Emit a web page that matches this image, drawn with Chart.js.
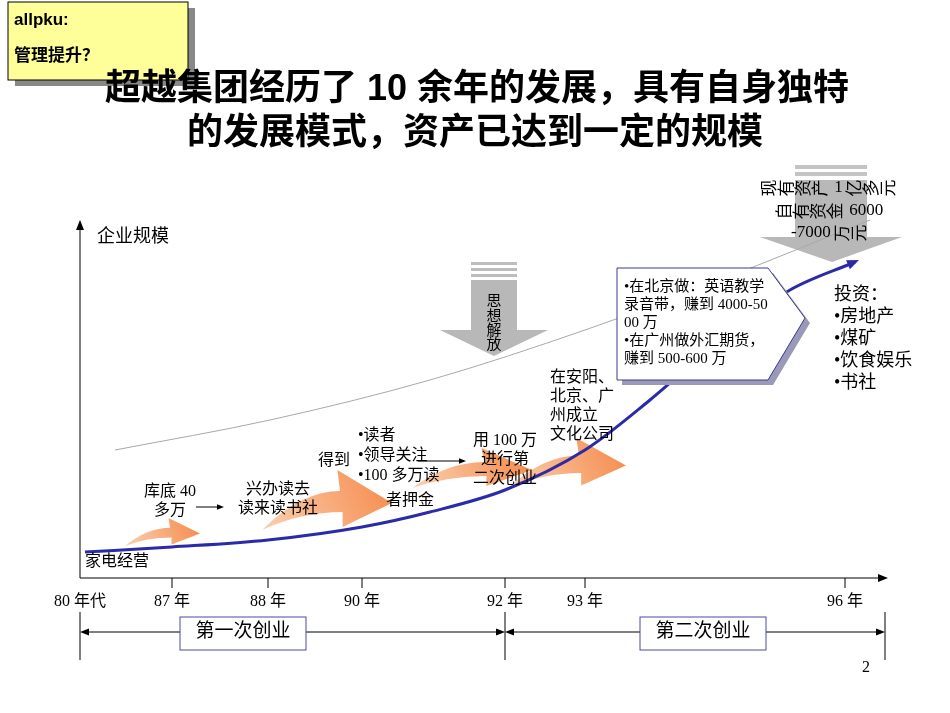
<!DOCTYPE html>
<html><head><meta charset="utf-8">
<script src="https://cdn.jsdelivr.net/npm/chart.js"></script>
<style>html,body{margin:0;background:#fff}#w{width:950px;height:713px}</style>
</head><body><div id="w"><canvas id="c"></canvas></div>
<script>
const tickLabels=['80 年代','87 年','88 年','90 年','92 年','93 年','96 年'];
const tickPos=[0,92,188,282,425,505,765];
const blueX=[5,92,188,282,350,425,505,570,640,710,775];
const blueY=[26,31,38,51,66,88,128,178,238,288,316];
const grayX=[35,190,350,505,640,790];
const grayY=[128,158,198,248,298,358];
const SER='"Liberation Serif","Noto Sans CJK SC"';
const pts=(xs,ys)=>xs.map((x,i)=>({x,y:ys[i]}));
function arrowHead(ctx,x,y,ang,len,col){ctx.save();ctx.fillStyle=col;ctx.translate(x,y);ctx.rotate(ang);ctx.beginPath();ctx.moveTo(0,0);ctx.lineTo(-len,-len/2.5);ctx.lineTo(-len,len/2.5);ctx.closePath();ctx.fill();ctx.restore();}
function txt(ctx,lines,x,y,size,lh,align){ctx.font=size+'px '+SER;ctx.fillStyle='#000';ctx.textAlign=align||'left';ctx.textBaseline='top';lines.forEach((l,i)=>ctx.fillText(l,x,y+i*lh));}
function orange(ctx,x,y,w,h){const g=ctx.createLinearGradient(x,y+h,x+w,y);g.addColorStop(0,'#fbd0b0');g.addColorStop(1,'#f5894a');ctx.fillStyle=g;ctx.beginPath();
ctx.moveTo(x,y+h);ctx.quadraticCurveTo(x+w*0.3,y+h*0.35,x+w*0.6,y+h*0.35);ctx.lineTo(x+w*0.58,y);ctx.lineTo(x+w,y+h*0.55);ctx.lineTo(x+w*0.62,y+h*0.95);ctx.lineTo(x+w*0.62,y+h*0.7);ctx.quadraticCurveTo(x+w*0.3,y+h*0.7,x,y+h);ctx.fill();}
function grayDown(ctx,cx,top,w,bodyTop,bodyBot,tipY,hw){ctx.fillStyle='#bdbdbd';for(let i=0;i<3;i++)ctx.fillRect(cx-w/2,top+i*6,w,3);ctx.fillStyle='#b8b8b8';ctx.fillRect(cx-w/2,bodyTop,w,bodyBot-bodyTop);ctx.beginPath();ctx.moveTo(cx-hw,bodyBot);ctx.lineTo(cx+hw,bodyBot);ctx.lineTo(cx,tipY);ctx.closePath();ctx.fill();}
function vert(ctx,s,x,y,size){ctx.font=size+'px '+SER;ctx.textAlign='center';ctx.textBaseline='top';ctx.fillStyle='#000';[...s].forEach((ch,i)=>ctx.fillText(ch,x,y+i*size*0.95));}
function rotLine(ctx,s,cx,y,size){ctx.font=size+'px '+SER;ctx.fillStyle='#000';ctx.textBaseline='middle';ctx.textAlign='left';
 const parts=[...s];let w=0;const ws=parts.map(c=>{const m=/[\u4e00-\u9fff]/.test(c)?size:ctx.measureText(c).width;w+=m;return m;});
 let x=cx-w/2;parts.forEach((c,i)=>{if(/[\u4e00-\u9fff]/.test(c)){ctx.save();ctx.translate(x+size/2,y);ctx.rotate(-Math.PI/2);ctx.textAlign='center';ctx.fillText(c,0,0);ctx.restore();}else ctx.fillText(c,x,y);x+=ws[i];});}
const deco={id:'deco',beforeDatasetsDraw(ch){const ctx=ch.ctx;
 grayDown(ctx,494,262,46,280,330,356,54);
 vert(ctx,'思想解放',494,295,15);
 ctx.fillStyle='#c4c4c4';ctx.fillRect(795,165,72,4);ctx.fillRect(795,172,72,4);ctx.fillStyle='#b8b8b8';ctx.fillRect(795,180,72,58);
 ctx.beginPath();ctx.moveTo(760,237);ctx.lineTo(902,237);ctx.lineTo(832,262);ctx.closePath();ctx.fill();
 orange(ctx,125,518,75,28);orange(ctx,262,470,130,60);orange(ctx,412,448,120,40);orange(ctx,508,438,118,50);
},afterDraw(ch){const ctx=ch.ctx,xs=ch.scales.x,ys=ch.scales.y;
 rotLine(ctx,'现有资产 1 亿多元',830,188,17);rotLine(ctx,'自有资金 6000',830,211,17);rotLine(ctx,'-7000 万元',830,233,17);
 const x0=xs.getPixelForValue(0),y0=ys.getPixelForValue(0);
 ctx.strokeStyle='#000';ctx.lineWidth=1;ctx.beginPath();ctx.moveTo(x0,y0);ctx.lineTo(880,y0);ctx.moveTo(x0,y0);ctx.lineTo(x0,228);ctx.stroke();
 arrowHead(ctx,888,y0,0,10,'#000');arrowHead(ctx,x0,220,-Math.PI/2,10,'#000');
 ctx.font='16px '+SER;ctx.textAlign='center';ctx.textBaseline='top';ctx.fillStyle='#000';
 tickPos.forEach((v,i)=>{const px=xs.getPixelForValue(v);if(i>0){ctx.beginPath();ctx.moveTo(px,y0);ctx.lineTo(px,y0+10);ctx.stroke();}ctx.fillText(tickLabels[i],px,594);});
 const a=ch.getDatasetMeta(0).data,l=a[a.length-1],p=a[a.length-2];arrowHead(ctx,l.x+4,l.y-2,Math.atan2(l.y-p.y,l.x-p.x),12,'#2b2ba8');
 txt(ctx,['企业规模'],97,228,18,20);txt(ctx,['家电经营'],85,554,16,18);
 txt(ctx,['库底 40','多万'],170,484,16,19,'center');txt(ctx,['兴办读去','读来读书社'],278,482,16,19,'center');
 txt(ctx,['得到'],318,453,16,19);txt(ctx,['•读者','•领导关注','•100 多万读'],358,428,16,20);txt(ctx,['者押金'],410,493,16,19,'center');
 txt(ctx,['用 100 万','进行第','二次创业'],505,433,16,19,'center');txt(ctx,['在安阳、','北京、广','州成立','文化公司'],550,370,16,19);
 txt(ctx,['投资：','•房地产','•煤矿','•饮食娱乐','•书社'],834,286,18,22);
 ctx.strokeStyle='#000';ctx.beginPath();ctx.moveTo(196,507);ctx.lineTo(218,507);ctx.moveTo(418,461);ctx.lineTo(460,461);ctx.stroke();arrowHead(ctx,224,507,0,7,'#000');arrowHead(ctx,466,461,0,7,'#000');
 const cp=(dx,dy)=>{ctx.beginPath();ctx.moveTo(617+dx,268+dy);ctx.lineTo(768+dx,268+dy);ctx.lineTo(805+dx,318+dy);ctx.lineTo(768+dx,380+dy);ctx.lineTo(617+dx,380+dy);ctx.closePath();};
 ctx.fillStyle='#9a9ab8';cp(5,5);ctx.fill();ctx.fillStyle='#fff';cp(0,0);ctx.fill();ctx.strokeStyle='#3a3a90';ctx.stroke();
 txt(ctx,['•在北京做：英语教学','录音带，赚到 4000-50','00 万','•在广州做外汇期货，','赚到 500-600 万'],624,280,15,18);
 ctx.strokeStyle='#000';ctx.beginPath();[80,505,885].forEach(x=>{ctx.moveTo(x,612);ctx.lineTo(x,660);});ctx.moveTo(88,632);ctx.lineTo(497,632);ctx.moveTo(513,632);ctx.lineTo(877,632);ctx.stroke();
 arrowHead(ctx,80,632,Math.PI,9,'#000');arrowHead(ctx,505,632,0,9,'#000');arrowHead(ctx,505,632,Math.PI,9,'#000');arrowHead(ctx,885,632,0,9,'#000');
 [[180,'第一次创业'],[640,'第二次创业']].forEach(([x,t])=>{ctx.fillStyle='#fff';ctx.fillRect(x,617,126,33);ctx.strokeStyle='#4a4aa0';ctx.strokeRect(x,617,126,33);txt(ctx,[t],x+63,623,19,20,'center');});
 txt(ctx,['2'],866,660,16,18,'center');
 ctx.fillStyle='#888';ctx.fillRect(15,8,180,78);ctx.fillStyle='#ffff99';ctx.fillRect(8,2,180,78);ctx.strokeStyle='#000';ctx.strokeRect(8,2,180,78);
 ctx.font='bold 17px "Liberation Sans","Noto Sans CJK SC"';ctx.fillStyle='#000';ctx.textAlign='left';ctx.textBaseline='top';ctx.fillText('allpku:',14,12);ctx.fillText('管理提升？',14,48);
 ctx.font='bold 36px "Liberation Sans","Noto Sans CJK SC"';ctx.textAlign='center';ctx.fillText('超越集团经历了 10 余年的发展，具有自身独特',477,72);ctx.fillText('的发展模式，资产已达到一定的规模',475,116);
}};
new Chart(document.getElementById('c'),{type:'scatter',data:{datasets:[
 {data:pts(blueX,blueY),showLine:true,borderColor:'#2b2ba8',borderWidth:3,pointRadius:0,tension:0.4,cubicInterpolationMode:'monotone'},
 {data:pts(grayX,grayY),showLine:true,borderColor:'#a8a8a8',borderWidth:1,pointRadius:0,tension:0.4,cubicInterpolationMode:'monotone'}]},
options:{responsive:true,maintainAspectRatio:false,animation:false,layout:{padding:{left:80,right:65,top:218,bottom:135}},
 plugins:{legend:{display:false},tooltip:{enabled:false}},
 scales:{x:{type:'linear',min:0,max:805,display:false},y:{min:0,max:360,display:false}}},plugins:[deco]});
</script></body></html>
